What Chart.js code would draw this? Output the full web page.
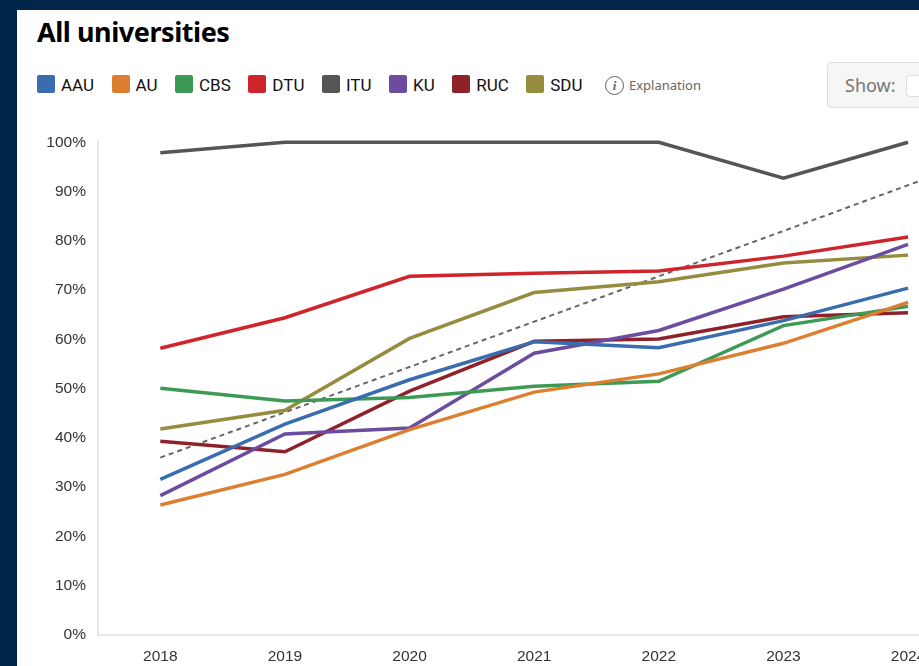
<!DOCTYPE html>
<html>
<head>
<meta charset="utf-8">
<script src="https://cdn.jsdelivr.net/npm/chart.js@4/dist/chart.umd.min.js"></script>
<style>
html, body { margin: 0; height: 100%; overflow: hidden; background: #00274b; }
#panel { position: absolute; left: 17px; top: 10px; width: 902px; height: 656px; background: #fff; overflow: hidden; }
#title { position: absolute; left: 20px; top: 4px; font: 700 27px/36px "Noto Sans", sans-serif; letter-spacing: -0.45px; color: #000; }
#legend { position: absolute; left: 20px; top: 64px; display: flex; align-items: center; height: 22px; font: 400 17px/22px Roboto, sans-serif; color: #111; }
.item { display: flex; align-items: center; margin-right: 17.5px; }
.swatch { width: 18px; height: 18px; border-radius: 2px; margin-right: 6px; margin-top: -2px; }
#explain { position: absolute; left: 588px; top: 64px; height: 22px; display: flex; align-items: center; font: 400 13px/22px "Noto Sans", sans-serif; color: #666; }
#explain i { display: block; width: 17px; height: 17px; border: 1px solid #666; border-radius: 50%; margin-right: 5px; text-align: center; font: italic 700 13px/17px "Liberation Serif", serif; }
#show { position: absolute; left: 810px; top: 52px; width: 120px; height: 46px; box-sizing: border-box; background: #f6f6f6; border: 1px solid #ddd; border-radius: 4px; font: 400 18px/45px "Noto Sans", sans-serif; color: #777; padding-left: 17px; }
#show span { position: absolute; left: 78px; top: 12px; width: 40px; height: 20px; background: #fff; border: 1px solid #ddd; border-radius: 4px; }
#wrap { position: absolute; left: 23px; top: 119px; }
</style>
</head>
<body>
<div id="panel">
  <div id="title">All universities</div>
  <div id="legend"></div>
  <div id="explain"><i>i</i>Explanation</div>
  <div id="show">Show:<span></span></div>
  <div id="wrap"><canvas id="myChart"></canvas></div>
</div>
<script>
const years = ['2018', '2019', '2020', '2021', '2022', '2023', '2024', '2025'];
const yTicks = [0, 10, 20, 30, 40, 50, 60, 70, 80, 90, 100];

const AAU = [31.6, 42.8, 51.8, 59.5, 58.3, 63.8, 70.4];
const AU = [26.4, 32.6, 41.7, 49.3, 53.0, 59.2, 67.5];
const CBS = [50.1, 47.5, 48.2, 50.5, 51.5, 62.8, 66.7];
const DTU = [58.2, 64.4, 72.8, 73.4, 73.9, 76.9, 80.8];
const ITU = [97.9, 100, 100, 100, 100, 92.7, 100];
const KU = [28.3, 40.8, 42.0, 57.2, 61.8, 70.2, 79.3];
const RUC = [39.3, 37.2, 49.5, 59.6, 60.1, 64.6, 65.4];
const SDU = [41.8, 45.6, 60.2, 69.5, 71.7, 75.5, 77.1];
// dashed line runs on past the last year, off the edge of the picture
const target = [36.0, 45.2, 54.4, 63.6, 72.8, 82.0, 91.3, 100.5];

const names = ['AAU', 'AU', 'CBS', 'DTU', 'ITU', 'KU', 'RUC', 'SDU'];
const values = [AAU, AU, CBS, DTU, ITU, KU, RUC, SDU];
const colors = ['#3a6cb0', '#dd7f31', '#3c9a55', '#cf242b', '#555557', '#6b4c9e', '#8f2229', '#958c3f'];

const legend = document.getElementById('legend');
names.forEach((name, i) => {
  const item = document.createElement('div');
  item.className = 'item';
  item.innerHTML = `<div class="swatch" style="background:${colors[i]}"></div>${name}`;
  legend.appendChild(item);
});

const datasets = names.map((name, i) => ({
  label: name,
  data: values[i],
  borderColor: colors[i],
  backgroundColor: colors[i],
  borderWidth: 3.5,
  pointRadius: 0,
  tension: 0,
  clip: false
}));
datasets.push({
  label: 'Target',
  data: target,
  borderColor: '#666',
  borderWidth: 2,
  borderDash: [5, 4],
  pointRadius: 0,
  tension: 0
});

const canvas = document.getElementById('myChart');
canvas.style.width = '1059px';
canvas.style.height = '537px';
canvas.width = 1059;
canvas.height = 537;

new Chart(canvas.getContext('2d'), {
  type: 'line',
  data: { labels: years, datasets: datasets },
  options: {
    responsive: false,
    animation: false,
    layout: { padding: { top: 2, bottom: 0, left: 0, right: 4 } },
    plugins: { legend: { display: false }, tooltip: { enabled: false } },
    scales: {
      x: {
        offset: true,
        grid: { display: false },
        border: { color: '#e8e8e8', width: 2 },
        afterFit: (axis) => { axis.height = 31; },
        ticks: {
          autoSkip: false,
          maxRotation: 0,
          padding: 4,
          color: '#333',
          font: { family: '"Liberation Sans"', size: 15.5 }
        }
      },
      y: {
        min: 0,
        max: 100,
        afterBuildTicks: (axis) => { axis.ticks = yTicks.map((v) => ({ value: v })); },
        afterFit: (axis) => { axis.width = 58; },
        grid: { display: false },
        border: { color: '#e8e8e8', width: 2 },
        ticks: {
          padding: 4,
          color: '#333',
          font: { family: '"Liberation Sans"', size: 15.5 },
          callback: (v) => v + '%'
        }
      }
    }
  }
});
</script>
</body>
</html>
